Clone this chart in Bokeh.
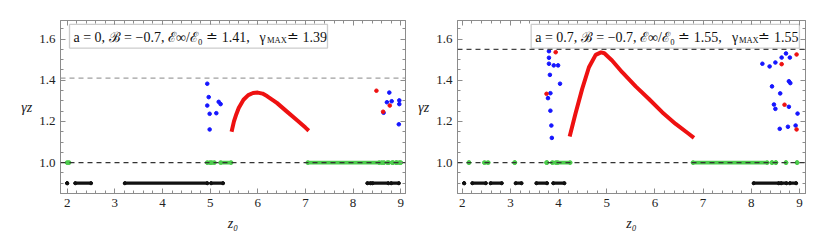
from bokeh.plotting import figure
from bokeh.models import Span, Label, BoxAnnotation, LinearAxis, FixedTicker, Range1d, PrintfTickFormatter
from bokeh.layouts import row
from bokeh.embed import file_html
from bokeh.resources import INLINE

# ---------------- data: panel A (a = 0) ----------------
a_curve_x = [5.45, 5.50, 5.55, 5.60, 5.70, 5.80, 5.90, 6.00, 6.10, 6.20, 6.40, 6.60, 6.80, 7.00, 7.07]
a_curve_y = [1.150, 1.200, 1.235, 1.265, 1.305, 1.328, 1.338, 1.340, 1.335, 1.322, 1.290, 1.250, 1.210, 1.170, 1.155]
a_blue_x = [4.94, 4.97, 4.94, 4.99, 4.99, 5.13, 5.18, 5.22, 8.64, 8.76, 8.71, 8.81, 8.97, 8.97, 8.96]
a_blue_y = [1.383, 1.318, 1.277, 1.237, 1.161, 1.240, 1.295, 1.284, 1.242, 1.340, 1.293, 1.298, 1.302, 1.284, 1.186]
a_red_x = [8.49, 8.63, 8.77]
a_red_y = [1.349, 1.247, 1.277]
a_green_start = [2.00, 4.94, 5.03, 5.22, 7.05, 8.60, 8.72, 8.82, 8.90, 8.97]
a_green_end = [2.04, 5.00, 5.09, 5.44, 8.55, 8.65, 8.75, 8.84, 8.92, 9.00]
a_black_start = [2.00, 2.17, 3.21, 5.02, 8.30, 8.41, 8.80]
a_black_end = [2.00, 2.50, 4.94, 5.27, 8.37, 8.74, 8.96]
a_einf = 1.41
a_text = ["a = 0,  \u212C = \u22120.7,  \u2130\u221E/\u2130\u2080 \u2250 1.41,", "\u03B3", "MAX", "\u2250 1.39"]

# ---------------- data: panel B (a = 0.7) ----------------
b_curve_x = [4.23, 4.35, 4.49, 4.63, 4.77, 4.88, 4.95, 5.11, 5.32, 5.60, 5.87, 6.15, 6.43, 6.70, 6.81]
b_curve_y = [1.127, 1.237, 1.358, 1.463, 1.523, 1.535, 1.531, 1.496, 1.439, 1.370, 1.310, 1.245, 1.188, 1.140, 1.120]
b_blue_x = [3.80, 3.80, 3.80, 3.90, 3.99, 3.82, 4.03, 3.83, 3.78, 3.83, 3.85, 3.86,
            8.72, 8.80, 8.63, 8.50, 8.23, 8.38, 8.78, 8.81, 8.43, 8.60, 8.47, 8.78, 8.50, 8.96, 8.92, 8.76, 8.59]
b_blue_y = [1.541, 1.509, 1.480, 1.472, 1.472, 1.426, 1.383, 1.337, 1.313, 1.252, 1.180, 1.120,
            1.530, 1.510, 1.510, 1.486, 1.480, 1.467, 1.395, 1.386, 1.370, 1.336, 1.282, 1.271, 1.261, 1.238, 1.180, 1.174, 1.164]
b_red_x = [3.94, 3.75, 8.94, 8.63, 8.69, 8.94]
b_red_y = [1.536, 1.334, 1.525, 1.478, 1.281, 1.161]
b_green_start = [2.14, 2.46, 3.09, 3.75, 3.87, 3.98, 6.79, 8.43, 8.51, 8.72, 8.95]
b_green_end = [2.14, 2.54, 3.09, 3.76, 3.95, 4.24, 8.33, 8.43, 8.51, 8.72, 8.95]
b_black_start = [2.04, 2.21, 2.59, 3.11, 3.54, 3.89, 8.05, 8.62, 8.80]
b_black_end = [2.04, 2.49, 2.82, 3.23, 3.76, 4.12, 8.57, 8.73, 8.93]
b_einf = 1.55
b_text = ["a = 0.7,  \u212C = \u22120.7,  \u2130\u221E/\u2130\u2080 \u2250 1.55,", "\u03B3", "MAX", "\u2250 1.55"]

x_ticks = [2, 3, 4, 5, 6, 7, 8, 9]
y_ticks = [0.8, 1.0, 1.2, 1.4, 1.6]

SERIF = "Liberation Serif"
FRAME = "#8c8c8c"


def style_axis(ax, ticks, show_labels):
    ax.axis_line_color = FRAME
    ax.major_tick_line_color = FRAME
    ax.minor_tick_line_color = FRAME
    ax.major_tick_in = 5
    ax.major_tick_out = 0
    ax.minor_tick_in = 3
    ax.minor_tick_out = 0
    ax.major_label_text_font = SERIF
    ax.major_label_text_color = "#222222"
    ax.major_label_text_font_size = "13px"
    ax.major_label_standoff = 5
    if not show_labels:
        ax.major_label_overrides = {float(t): "" for t in ticks}
        ax.major_label_standoff = 0


def panel(xr, w, bl, br, curve_x, curve_y, blue_x, blue_y, red_x, red_y,
          g0, g1, k0, k1, einf, einf_color, text, box, t_pos):
    p = figure(width=w, height=238, output_backend="svg", toolbar_location=None,
               x_range=Range1d(*xr), y_range=Range1d(0.85, 1.69),
               min_border_left=bl, min_border_right=br, min_border_top=20, min_border_bottom=45,
               x_axis_location=None, y_axis_location=None)
    p.grid.visible = False
    p.outline_line_color = FRAME
    p.background_fill_color = "white"
    p.border_fill_color = "white"

    xt = FixedTicker(ticks=x_ticks, minor_ticks=[1.8 + 0.2 * i for i in range(38)])
    yt = FixedTicker(ticks=y_ticks, minor_ticks=[0.8 + 0.05 * i for i in range(19)])
    bottom = LinearAxis(ticker=xt, axis_label="z\u2080")
    style_axis(bottom, x_ticks, True)
    bottom.axis_label_text_font = SERIF
    bottom.axis_label_text_font_style = "italic"
    bottom.axis_label_text_font_size = "14px"
    bottom.axis_label_text_color = "#222222"
    bottom.axis_label_standoff = 6
    left = LinearAxis(ticker=yt, axis_label="\u03B3z", formatter=PrintfTickFormatter(format="%.1f"))
    style_axis(left, y_ticks, True)
    left.axis_label_text_font = SERIF
    left.axis_label_text_font_style = "italic"
    left.axis_label_text_font_size = "14px"
    left.axis_label_text_color = "#222222"
    left.axis_label_standoff = 4
    try:
        left.axis_label_orientation = "horizontal"
    except Exception:
        pass
    top = LinearAxis(ticker=xt)
    style_axis(top, x_ticks, False)
    right = LinearAxis(ticker=yt)
    style_axis(right, y_ticks, False)
    p.add_layout(bottom, "below")
    p.add_layout(left, "left")
    p.add_layout(top, "above")
    p.add_layout(right, "right")

    # level lines at 0.9 (black) and 1.0 (green)
    p.segment(x0=k0, y0=[0.9] * len(k0), x1=k1, y1=[0.9] * len(k1),
              line_color="#111111", line_width=3.2, line_cap="round")
    p.scatter(x=k0 + k1, y=[0.9] * (len(k0) + len(k1)), size=3.2, color="#111111")
    p.segment(x0=g0, y0=[1.0] * len(g0), x1=g1, y1=[1.0] * len(g1),
              line_color="#4ccc4c", line_width=3.8, line_cap="round")
    p.scatter(x=g0 + g1, y=[1.0] * (len(g0) + len(g1)), size=3.8, color="#4ccc4c")

    p.add_layout(Span(location=1.0, dimension="width", line_color="#333333",
                      line_dash="5 4", line_width=1.2))

    p.line(curve_x, curve_y, line_color="#ee1111", line_width=4)
    p.scatter(blue_x, blue_y, size=3.6, color="#1515ff")
    p.scatter(red_x, red_y, size=3.6, color="#ee1111")

    # legend box
    p.add_layout(BoxAnnotation(left=box[0], right=box[1], bottom=box[2], top=box[3],
                               fill_color="white", fill_alpha=1.0,
                               line_color="#555555", line_width=1.3))
    p.add_layout(Span(location=einf, dimension="width", line_color=einf_color,
                      line_dash="5 4", line_width=1.2))
    sizes = ["14px", "14px", "8.5px", "14px"]
    ys = [t_pos[4], t_pos[4], t_pos[5], t_pos[4]]
    for i in range(4):
        p.add_layout(Label(x=t_pos[i], y=ys[i], text=text[i], text_align="left",
                           text_baseline="middle", text_font=SERIF, text_font_size=sizes[i],
                           text_color="#111111"))
    return p


# left panel: px -> x = 1.86 + (px-60)/47.65 ; right: x = 1.902 + (px-457)/48.19
p1 = panel((1.86, 9.10), 415, 60, 10, a_curve_x, a_curve_y, a_blue_x, a_blue_y, a_red_x, a_red_y,
           a_green_start, a_green_end, a_black_start, a_black_end, a_einf, "#a0a0a0", a_text,
           (2.049, 7.463, 1.556, 1.671), (2.133, 6.036, 6.194, 6.612, 1.6075, 1.593))
p2 = panel((1.902, 9.125), 410, 42, 20, b_curve_x, b_curve_y, b_blue_x, b_blue_y, b_red_x, b_red_y,
           b_green_start, b_green_end, b_black_start, b_black_end, b_einf, "#444444", b_text,
           (3.431, 8.999, 1.556, 1.671), (3.514, 7.598, 7.743, 8.147, 1.6075, 1.593))

layout = row(p1, p2, spacing=0)
open("out.html", "w").write(file_html(layout, INLINE))
